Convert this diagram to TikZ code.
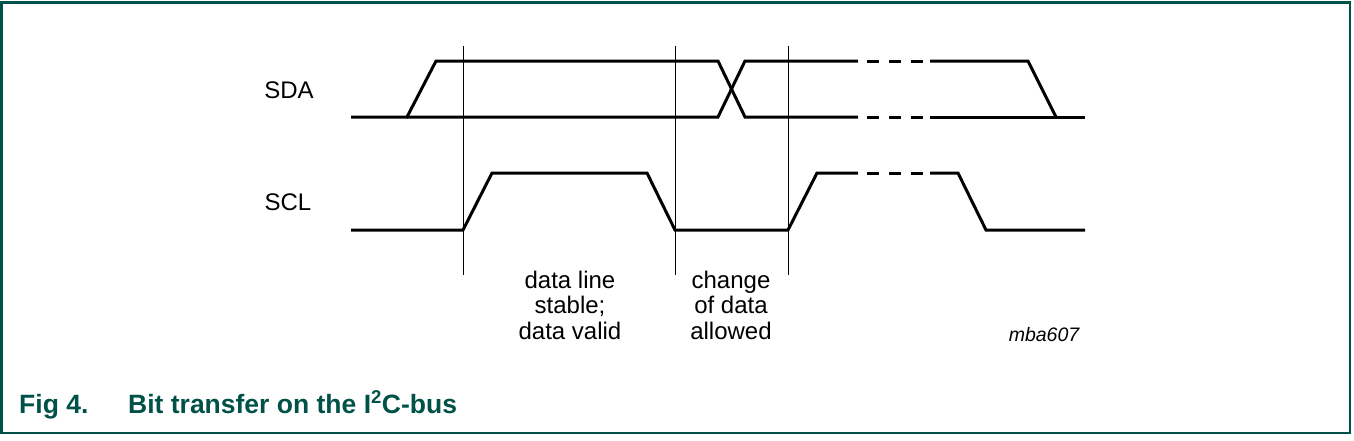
\documentclass[tikz,border=0pt]{standalone}
\usepackage{fontspec}
\setmainfont{Liberation Sans}
\definecolor{nxpgreen}{RGB}{0,82,72}
\begin{document}
\begin{tikzpicture}[x=1pt,y=-1pt,
	signal/.style={line width=3pt},
	gapline/.style={line width=3pt,dash pattern=on 12pt off 10pt},
	marker/.style={line width=0.8pt},
	caption/.style={anchor=base west,inner sep=0pt,text=nxpgreen,font=\bfseries\fontsize{26.5}{30}\selectfont},
	every node/.style={font=\fontsize{24}{25.5}\selectfont,align=center}]
	\useasboundingbox (0,0) rectangle (1354,440);
	\draw[nxpgreen,line width=2.5pt] (1.5,2.5) rectangle (1350,433);
	
	% timing marks
	\coordinate (m1t) at (463,46);  \coordinate (m1b) at (463,275);
	\coordinate (m2t) at (675,46);  \coordinate (m2b) at (675,275);
	\coordinate (m3t) at (788,46);  \coordinate (m3b) at (788,275);
	\draw[marker] (m1t) -- (m1b);
	\draw[marker] (m2t) -- (m2b);
	\draw[marker] (m3t) -- (m3b);
	
	% SDA
	\draw[signal] (351,117) -- (407,117) -- (436,61) -- (718,61) -- (745,117) -- (858,117);
	\draw[signal] (407,117) -- (718,117) -- (745,61) -- (858,61);
	\draw[gapline] (867,61) -- (924,61);
	\draw[gapline] (867,117) -- (924,117);
	\draw[signal] (930,61) -- (1028,61) -- (1056,117);
	\draw[signal] (930,117) -- (1085,117);
	
	% SCL
	\draw[signal] (351,230) -- (463,230) -- (492,173) -- (647,173) -- (675,230) -- (788,230) -- (817,173) -- (858,173);
	\draw[gapline] (867,173) -- (924,173);
	\draw[signal] (930,173) -- (958,173) -- (986,230) -- (1085,230);
	
	\node (sda) at (289,90) {SDA};
	\node (scl) at (288,202) {SCL};
	\node (stable) at (570,305) {data line\\stable;\\data valid};
	\node (change) at (731,305) {change\\of data\\allowed};
	\node[font=\itshape\fontsize{19.5}{22}\selectfont] (code) at (1044,335) {mba607};
	\node[caption] (fig) at (19,413) {Fig 4.};
	\node[caption] (title) at (128,413) {Bit transfer on the I\textsuperscript{2}C-bus};
\end{tikzpicture}
\end{document}
